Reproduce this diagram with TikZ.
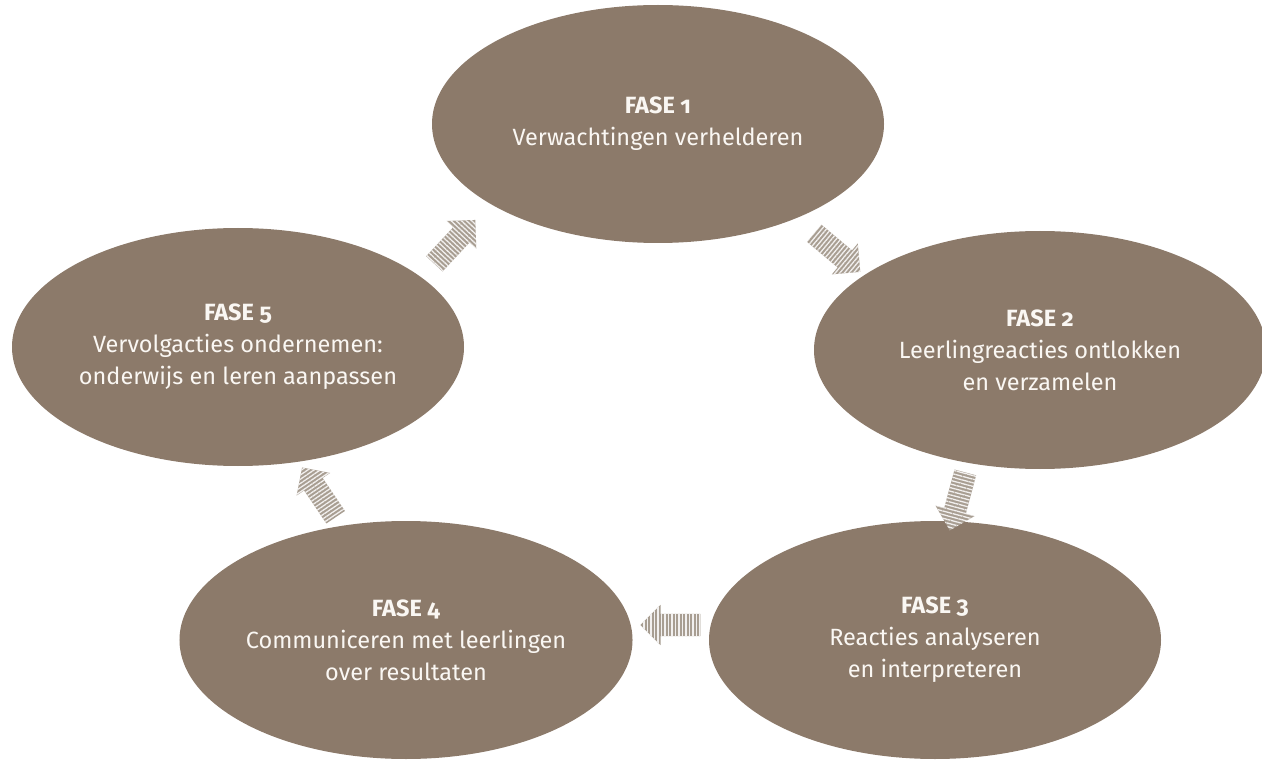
\documentclass[tikz,border=0pt]{standalone}
\usepackage{fontspec}
\setmainfont{Fira Sans}[Numbers=OldStyle]
\usetikzlibrary{shapes.geometric}
\usetikzlibrary{shapes.arrows}
\usetikzlibrary{patterns.meta}
\definecolor{fasebruin}{RGB}{140,122,106}
\definecolor{pijlbruin}{RGB}{168,158,146}
\definecolor{tekstwit}{RGB}{250,247,243}
\tikzset{
  fase/.style={ellipse,fill=fasebruin,minimum width=452pt,minimum height=238pt,inner sep=0pt,
    text=tekstwit,align=center,font=\fontsize{23.5}{32}\selectfont},
  pijl/.style={single arrow,fill=pijlbruin,rotate=#1,minimum height=60pt,
    inner xsep=0pt,inner ysep=11pt,single arrow head extend=9pt,
    postaction={pattern={Lines[angle=#1+90,distance=3.5pt,line width=1.3pt]},pattern color=white!85!pijlbruin}}
}
\begin{document}
\begin{tikzpicture}[x=1pt,y=-1pt]
\useasboundingbox (0,0) rectangle (1262,762);
\clip (0,0) rectangle (1262,762);

% fasen
\node[fase] (f1) at (658,124) {\textbf{FASE 1}\\Verwachtingen verhelderen};
\node[fase] (f2) at (1040,350) {\textbf{FASE 2}\\Leerlingreacties ontlokken\\en verzamelen};
\node[fase] (f3) at (935,640) {\textbf{FASE 3}\\Reacties analyseren\\en interpreteren};
\node[fase] (f4) at (406,640) {\textbf{FASE 4}\\Communiceren met leerlingen\\over resultaten};
\node[fase] (f5) at (238,347) {\textbf{FASE 5}\\Vervolgacties ondernemen:\\onderwijs en leren aanpassen};

% pijlen
\node[pijl=47] (p1) at (451,246) {};
\node[pijl=-40] (p2) at (833,249) {};
\node[pijl=-105] (p3) at (959,496) {};
\node[pijl=180] (p4) at (676,625) {};
\node[pijl=124] (p5) at (322,497) {};
\end{tikzpicture}
\end{document}
